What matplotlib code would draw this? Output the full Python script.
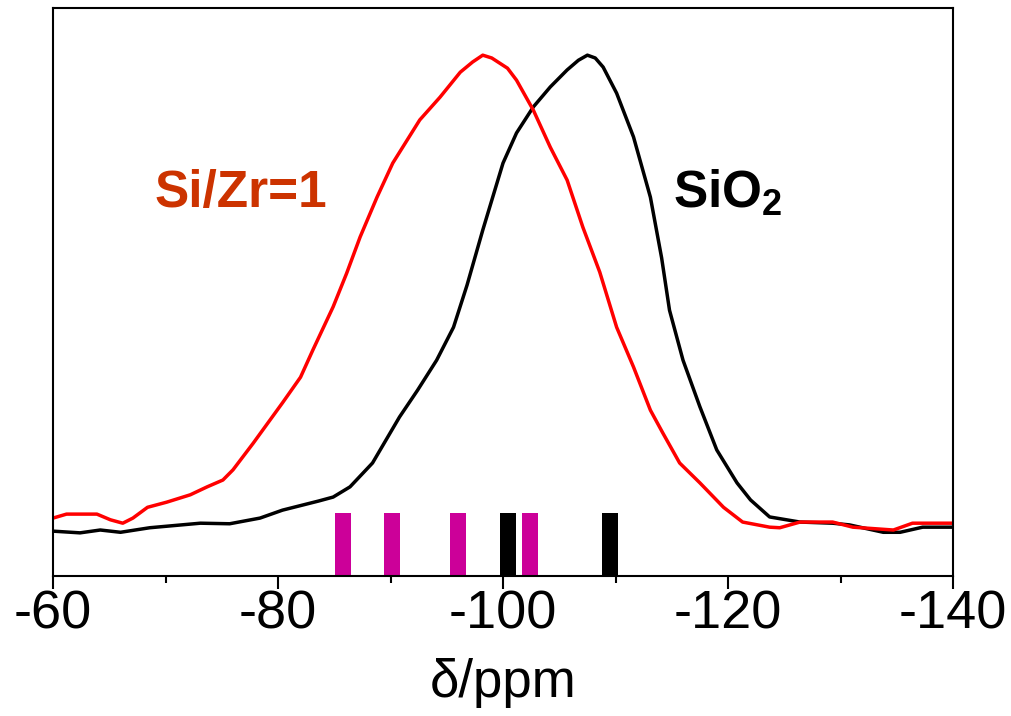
import matplotlib
matplotlib.use("Agg")
import matplotlib.pyplot as plt
from matplotlib.ticker import MultipleLocator

plt.rcParams['font.family'] = ['Liberation Sans', 'DejaVu Sans']
plt.rcParams['mathtext.fontset'] = 'custom'
plt.rcParams['mathtext.rm'] = 'Liberation Sans'
plt.rcParams['mathtext.bf'] = 'Liberation Sans:bold'
plt.rcParams['axes.unicode_minus'] = False

# SiO2 spectrum (ppm, intensity)
sio2_ppm = [-60.0, -62.4, -64.2, -66.0, -68.6, -73.1, -75.7, -78.4, -80.4, -83.6,
            -84.9, -86.4, -88.4, -90.8, -92.4, -94.1, -95.6, -96.8, -98.2, -100.0,
            -101.2, -102.7, -104.2, -105.7, -106.7, -107.5, -108.2, -108.9, -110.1,
            -111.6, -113.1, -114.1, -114.8, -116.0, -117.5, -119.0, -120.8, -122.0,
            -123.7, -126.4, -129.3, -130.8, -133.8, -135.3, -137.3, -140.0]
sio2_int = [0.079, 0.076, 0.081, 0.077, 0.085, 0.093, 0.092, 0.102, 0.116, 0.132,
            0.139, 0.157, 0.199, 0.280, 0.327, 0.380, 0.438, 0.512, 0.609, 0.727,
            0.780, 0.826, 0.861, 0.891, 0.908, 0.917, 0.912, 0.896, 0.850,
            0.773, 0.667, 0.560, 0.468, 0.380, 0.298, 0.222, 0.164, 0.134,
            0.104, 0.095, 0.093, 0.090, 0.077, 0.077, 0.086, 0.086]

# Si/Zr=1 spectrum
sizr_ppm = [-60.0, -61.2, -63.9, -65.1, -66.2, -67.1, -68.4, -70.1, -72.2, -73.7,
            -75.1, -76.0, -77.8, -80.4, -82.0, -83.1, -84.9, -86.1, -87.3, -88.8,
            -90.2, -92.6, -94.4, -96.2, -97.3, -98.2, -99.0, -99.7, -100.4, -101.2,
            -102.7, -104.2, -105.7, -107.1, -108.6, -110.1, -111.6, -113.1, -114.2,
            -115.7, -117.5, -119.6, -121.3, -123.7, -124.6, -126.4, -129.3, -131.1,
            -134.7, -136.4, -140.0]
sizr_int = [0.102, 0.109, 0.109, 0.099, 0.093, 0.102, 0.121, 0.130, 0.143, 0.157,
            0.169, 0.187, 0.234, 0.305, 0.350, 0.398, 0.474, 0.533, 0.597, 0.667,
            0.727, 0.803, 0.843, 0.887, 0.905, 0.917, 0.912, 0.903, 0.894, 0.873,
            0.820, 0.755, 0.697, 0.614, 0.535, 0.438, 0.368, 0.292, 0.252,
            0.199, 0.164, 0.121, 0.095, 0.086, 0.085, 0.095, 0.095, 0.086,
            0.081, 0.093, 0.093]

# reference shift markers
zr_marks = [-85.8, -90.1, -96.0, -102.4]
si_marks = [-100.4, -109.5]
mark_height = 0.111

fig = plt.figure(figsize=(10.12, 7.16), dpi=100)
ax = fig.add_axes([0.0524, 0.1955, 0.8893, 0.7933])

ax.plot(sio2_ppm, sio2_int, color='black', lw=2.5)
ax.plot(sizr_ppm, sizr_int, color='#ff0000', lw=2.5)

ax.bar(zr_marks, [mark_height] * len(zr_marks), width=1.42, color='#cc0099')
ax.bar(si_marks, [mark_height] * len(si_marks), width=1.42, color='black')

ax.text(-76.7, 0.674, 'Si/Zr=1', color='#cc3300', fontsize=37,
        fontweight='bold', ha='center', va='center')
ax.text(-115.1, 0.674, r'SiO$_\mathbf{2}$', color='black', fontsize=37,
        fontweight='bold', ha='left', va='center')

ax.set_xlim(-60, -140)
ax.set_ylim(0, 1)
ax.xaxis.set_major_locator(MultipleLocator(20))
ax.xaxis.set_minor_locator(MultipleLocator(10))
ax.set_yticks([])
ax.tick_params(axis='x', which='major', direction='out', length=9, width=1.5,
               labelsize=39, pad=1, top=False)
ax.tick_params(axis='x', which='minor', direction='out', length=5, width=1.5)
for s in ax.spines.values():
    s.set_linewidth(1.5)

ax.set_xlabel('δ/ppm', fontsize=38, labelpad=13)

fig.savefig('out.png', dpi=100)
